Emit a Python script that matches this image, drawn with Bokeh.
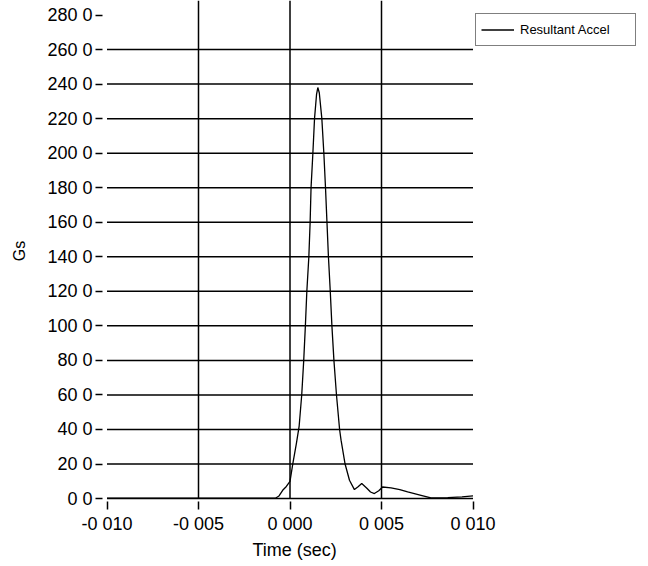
from bokeh.plotting import figure
from bokeh.models import Range1d, FixedTicker, Legend, LegendItem, Title
from bokeh.embed import file_html
from bokeh.resources import INLINE

# ---- data ----
time_sec = [-0.0100, -0.0080, -0.0060, -0.0040, -0.0020, -0.0010, -0.00078,
            -0.0006, -0.0004, -0.0002, 0.0000, 0.00015, 0.00035, 0.00050,
            0.00064, 0.00075, 0.00084, 0.00092, 0.00103, 0.00110, 0.00115,
            0.00125, 0.00134, 0.00145, 0.00152, 0.00160, 0.00174, 0.00185,
            0.00194, 0.00202, 0.00210, 0.00220, 0.00229, 0.00240, 0.00254,
            0.00271, 0.00279, 0.00301, 0.00325, 0.00352, 0.00372, 0.00392,
            0.00420, 0.00440, 0.00461, 0.00485, 0.00506, 0.00552, 0.00600,
            0.00643, 0.00716, 0.00770, 0.00862, 0.00940, 0.01000]
resultant_gs = [0.3, 0.3, 0.3, 0.3, 0.3, 0.3, 0.3,
                1.5, 4.8, 7.0, 10.0, 20.0, 32.0, 42.0,
                60.0, 80.0, 100.0, 120.0, 140.0, 160.0, 180.0,
                200.0, 220.0, 234.0, 238.0, 235.0, 220.0, 200.0,
                180.0, 160.0, 140.0, 120.0, 100.0, 80.0, 60.0,
                40.0, 33.8, 20.0, 10.6, 5.2, 6.8, 8.7,
                6.0, 3.8, 2.9, 4.5, 6.7, 6.2, 5.2,
                3.9, 1.9, 0.4, 0.6, 1.0, 1.5]

x_ticks = [-0.010, -0.005, 0.000, 0.005, 0.010]
x_tick_labels = ["-0 010", "-0 005", "0 000", "0 005", "0 010"]
y_ticks = [0, 20, 40, 60, 80, 100, 120, 140, 160, 180, 200, 220, 240, 260, 280]
y_tick_labels = ["0 0", "20 0", "40 0", "60 0", "80 0", "100 0", "120 0", "140 0",
                 "160 0", "180 0", "200 0", "220 0", "240 0", "260 0", "280 0"]
series_name = "Resultant Accel"
x_title = "Time (sec)"
y_title = "Gs"

FONT = "Liberation Sans"
# the frame runs on to the right edge so that the legend can sit beside the data area
X_START, X_END = -0.010246, 0.01959
Y_START, Y_END = -1.7, 288.4

p = figure(width=648, height=566, output_backend="svg", toolbar_location=None,
           x_range=Range1d(X_START, X_END), y_range=Range1d(Y_START, Y_END),
           min_border_left=102, min_border_right=0, min_border_top=0,
           min_border_bottom=65)
p.outline_line_color = None
p.xgrid.visible = False
p.ygrid.visible = False

# grid lines drawn from the tick arrays (horizontal lines stop at the x data extent)
h_levels = y_ticks[:-1]
p.segment(x0=[x_ticks[0]] * len(h_levels), x1=[x_ticks[-1]] * len(h_levels),
          y0=h_levels, y1=h_levels, line_color="black", line_width=1.5)
v_levels = x_ticks[1:-1]
p.segment(x0=v_levels, x1=v_levels, y0=[y_ticks[0]] * len(v_levels),
          y1=[Y_END] * len(v_levels), line_color="black", line_width=1.5)

curve = p.line(time_sec, resultant_gs, line_color="black", line_width=1.3)

# axes
p.xaxis.ticker = FixedTicker(ticks=x_ticks)
p.xaxis.major_label_overrides = dict(zip(x_ticks, x_tick_labels))
p.yaxis.ticker = FixedTicker(ticks=y_ticks)
p.yaxis.major_label_overrides = dict(zip(y_ticks, y_tick_labels))
for ax in (p.xaxis, p.yaxis):
    ax.axis_line_color = None
    ax.major_tick_in = 0
    ax.minor_tick_line_color = None
    ax.major_tick_line_color = "black"
    ax.major_tick_line_width = 1.5
    ax.major_label_text_font = FONT
    ax.major_label_text_font_size = "18px"
    ax.major_label_text_color = "black"
    ax.axis_label_text_font = FONT
    ax.axis_label_text_font_style = "normal"
    ax.axis_label_text_color = "black"
p.xaxis.major_tick_out = 8
p.yaxis.major_tick_out = 7
p.xaxis.major_label_standoff = 4
p.yaxis.major_label_standoff = 3
p.yaxis.axis_label = y_title
p.yaxis.axis_label_text_font_size = "16px"
p.yaxis.axis_label_standoff = 16

# x-axis title, centred under the data extent (not under the widened frame)
p.add_layout(Title(text=x_title, align="left", offset=150, standoff=2,
                   text_font=FONT, text_font_size="18px",
                   text_font_style="normal", text_color="black"), "below")

legend = Legend(items=[LegendItem(label=series_name, renderers=[curve])],
                location=(373, 455), margin=0, padding=5,
                border_line_color="black", border_line_width=1,
                background_fill_alpha=0,
                label_text_font=FONT, label_text_font_size="13px",
                label_text_color="black", glyph_width=33, glyph_height=21,
                label_height=21, label_standoff=6, label_width=110)
p.add_layout(legend)

open("out.html", "w").write(file_html(p, INLINE))
